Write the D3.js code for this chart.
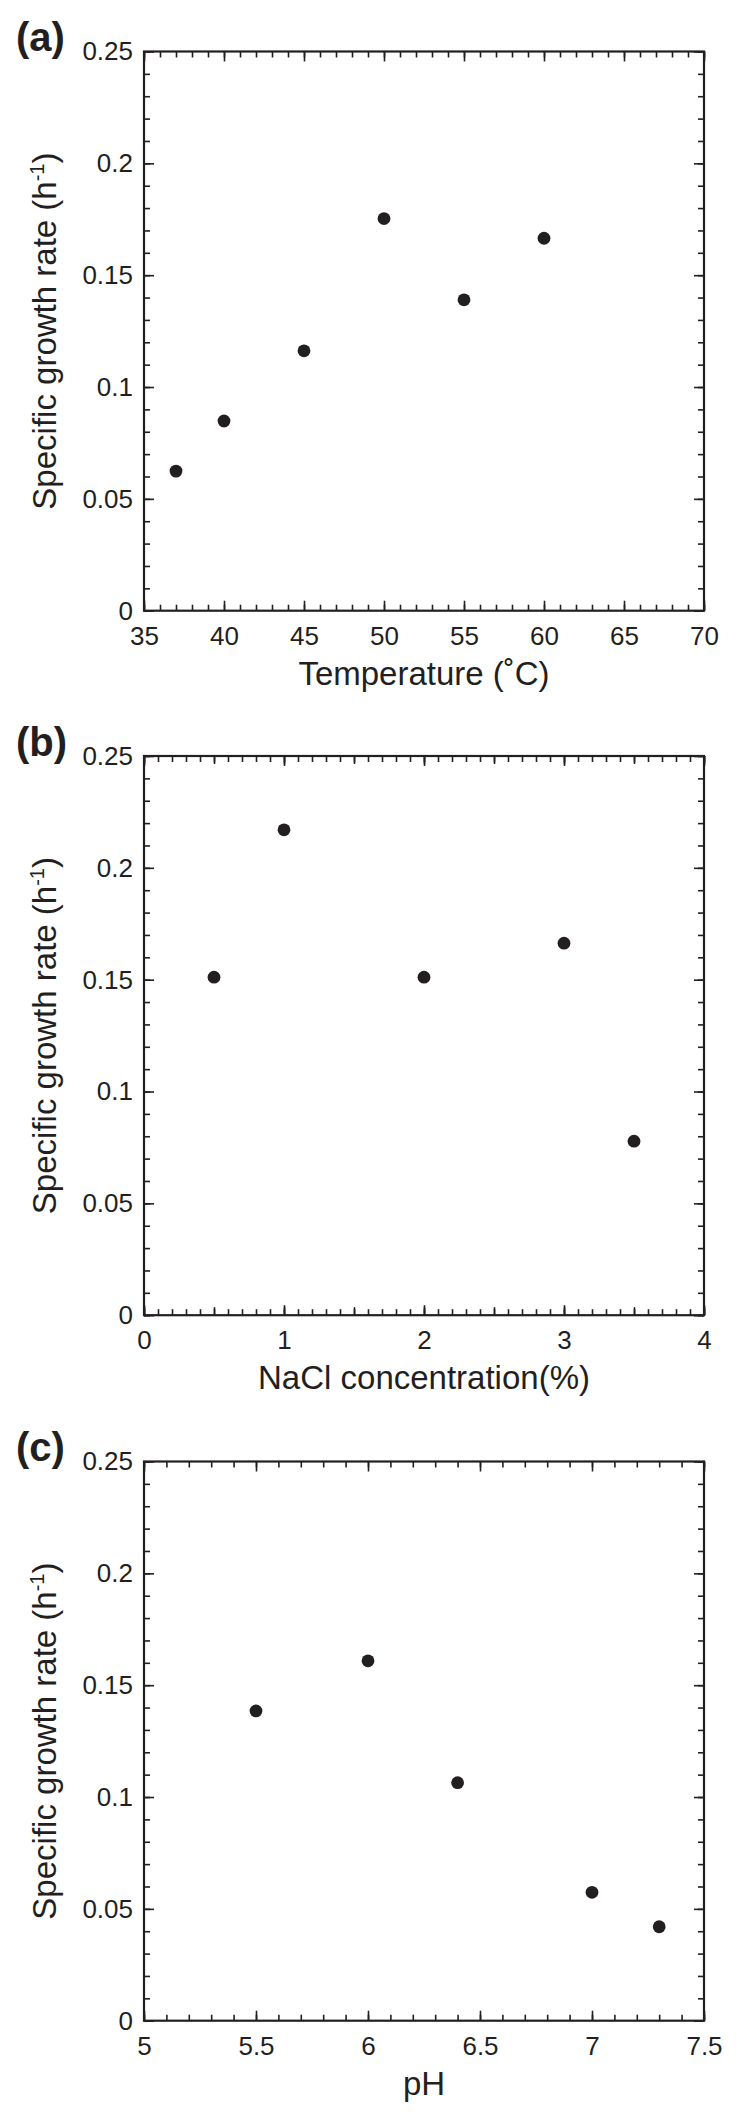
<!DOCTYPE html>
<html>
<head>
<meta charset="utf-8">
<script src="https://cdn.jsdelivr.net/npm/d3@7"></script>
<style>
  html, body { margin: 0; padding: 0; background: #fff; }
  svg { display: block; }
  text { font-family: "Liberation Sans", Arial, Helvetica, sans-serif; fill: #231f20; }
</style>
</head>
<body>
<svg id="chart" width="743" height="2120"></svg>
<script>
// ---- Data ----
const tempX = [37, 40, 45, 50, 55, 60];
const tempY = [0.0624, 0.0848, 0.1162, 0.1753, 0.1390, 0.1665];

const naclX = [0.5, 1, 2, 3, 3.5];
const naclY = [0.1511, 0.2170, 0.1511, 0.1663, 0.0778];

const phX = [5.5, 6, 6.4, 7, 7.3];
const phY = [0.1385, 0.1609, 0.1064, 0.0574, 0.0420];

const yTickValues = [0, 0.05, 0.1, 0.15, 0.2, 0.25];
const yTickLabels = ["0", "0.05", "0.1", "0.15", "0.2", "0.25"];

const tempTicks = [35, 40, 45, 50, 55, 60, 65, 70];
const tempTickLabels = ["35", "40", "45", "50", "55", "60", "65", "70"];
const naclTicks = [0, 1, 2, 3, 4];
const naclTickLabels = ["0", "1", "2", "3", "4"];
const phTicks = [5, 5.5, 6, 6.5, 7, 7.5];
const phTickLabels = ["5", "5.5", "6", "6.5", "7", "7.5"];

const panelLabels = ["(a)", "(b)", "(c)"];
const xTitles = ["Temperature (\u02DAC)", "NaCl concentration(%)", "pH"];
const yTitle = "Specific growth rate (h";

// ---- Layout ----
const ink = "#231f20";
const W = 560, H = 559.2, L = 144;
const tops = [51.5, 756, 1461.5];

const panels = [
  { x: tempX, y: tempY, dom: [35, 70], ticks: tempTicks, labels: tempTickLabels, minorStep: 1, midStep: null },
  { x: naclX, y: naclY, dom: [0, 4], ticks: naclTicks, labels: naclTickLabels, minorStep: 0.1, midStep: 0.5 },
  { x: phX, y: phY, dom: [5, 7.5], ticks: phTicks, labels: phTickLabels, minorStep: 0.1, midStep: null }
];

const svg = d3.select("#chart");

panels.forEach((p, i) => {
  const top = tops[i];
  const g = svg.append("g").attr("transform", `translate(${L},${top})`);
  const xs = d3.scaleLinear().domain(p.dom).range([0, W]);
  const ys = d3.scaleLinear().domain([0, 0.25]).range([H, 0]);

  const nMinor = Math.round((p.dom[1] - p.dom[0]) / p.minorStep);
  const xMinor = d3.range(nMinor + 1).map(k => +(p.dom[0] + k * p.minorStep).toFixed(4));
  const yMinor = d3.range(26).map(k => +(k * 0.01).toFixed(4));
  const xMid = p.midStep ? d3.range(Math.round((p.dom[1] - p.dom[0]) / p.midStep) + 1).map(k => +(p.dom[0] + k * p.midStep).toFixed(4)) : [];

  function styleAxis(sel) {
    sel.select(".domain").remove();
    sel.selectAll("line").attr("stroke", ink).attr("stroke-width", 1.6);
    sel.selectAll("text").style("font-size", "26px").attr("fill", ink);
  }

  // minor ticks
  [["bottom", H], ["top", 0]].forEach(([side, ty]) => {
    const ax = (side === "bottom" ? d3.axisBottom(xs) : d3.axisTop(xs)).tickValues(xMinor).tickSize(-6).tickFormat("");
    g.append("g").attr("transform", `translate(0,${ty})`).call(ax).call(styleAxis);
    if (xMid.length) {
      const axm = (side === "bottom" ? d3.axisBottom(xs) : d3.axisTop(xs)).tickValues(xMid).tickSize(-8).tickFormat("");
      g.append("g").attr("transform", `translate(0,${ty})`).call(axm).call(styleAxis);
    }
  });
  [["left", 0], ["right", W]].forEach(([side, tx]) => {
    const ax = (side === "left" ? d3.axisLeft(ys) : d3.axisRight(ys)).tickValues(yMinor).tickSize(-6).tickFormat("");
    g.append("g").attr("transform", `translate(${tx},0)`).call(ax).call(styleAxis);
  });

  // major ticks
  const xb = d3.axisBottom(xs).tickValues(p.ticks).tickSize(-10).tickPadding(15.5)
    .tickFormat((d, k) => p.labels[k]);
  g.append("g").attr("transform", `translate(0,${H})`).call(xb).call(styleAxis);
  const xt = d3.axisTop(xs).tickValues(p.ticks).tickSize(-10).tickFormat("");
  g.append("g").call(xt).call(styleAxis);
  const yl = d3.axisLeft(ys).tickValues(yTickValues).tickSize(-10).tickPadding(11)
    .tickFormat((d, k) => yTickLabels[k]);
  g.append("g").call(yl).call(styleAxis);
  const yr = d3.axisRight(ys).tickValues(yTickValues).tickSize(-10).tickFormat("");
  g.append("g").attr("transform", `translate(${W},0)`).call(yr).call(styleAxis);

  // frame
  g.append("rect").attr("x", 0).attr("y", 0).attr("width", W).attr("height", H)
    .attr("fill", "none").attr("stroke", ink).attr("stroke-width", 2.2);

  // points
  g.selectAll("circle.pt").data(p.x.map((d, k) => [d, p.y[k]])).enter()
    .append("circle").attr("class", "pt")
    .attr("cx", d => xs(d[0])).attr("cy", d => ys(d[1]))
    .attr("r", 6.4).attr("fill", ink);

  // x title
  svg.append("text").attr("x", L + W / 2).attr("y", top + H + 74)
    .attr("text-anchor", "middle").style("font-size", "33px").text(xTitles[i]);

  // y title
  const yt = svg.append("text")
    .attr("transform", `translate(56,${top + H / 2}) rotate(-90)`)
    .attr("text-anchor", "middle").style("font-size", "33px");
  yt.append("tspan").text(yTitle);
  yt.append("tspan").attr("dy", -12).style("font-size", "20px").text("-1");
  yt.append("tspan").attr("dy", 12).text(")");

  // panel label
  svg.append("text").attr("x", 16).attr("y", top - 0.5)
    .style("font-size", "40px").style("font-weight", "bold").text(panelLabels[i]);
});
</script>
</body>
</html>
